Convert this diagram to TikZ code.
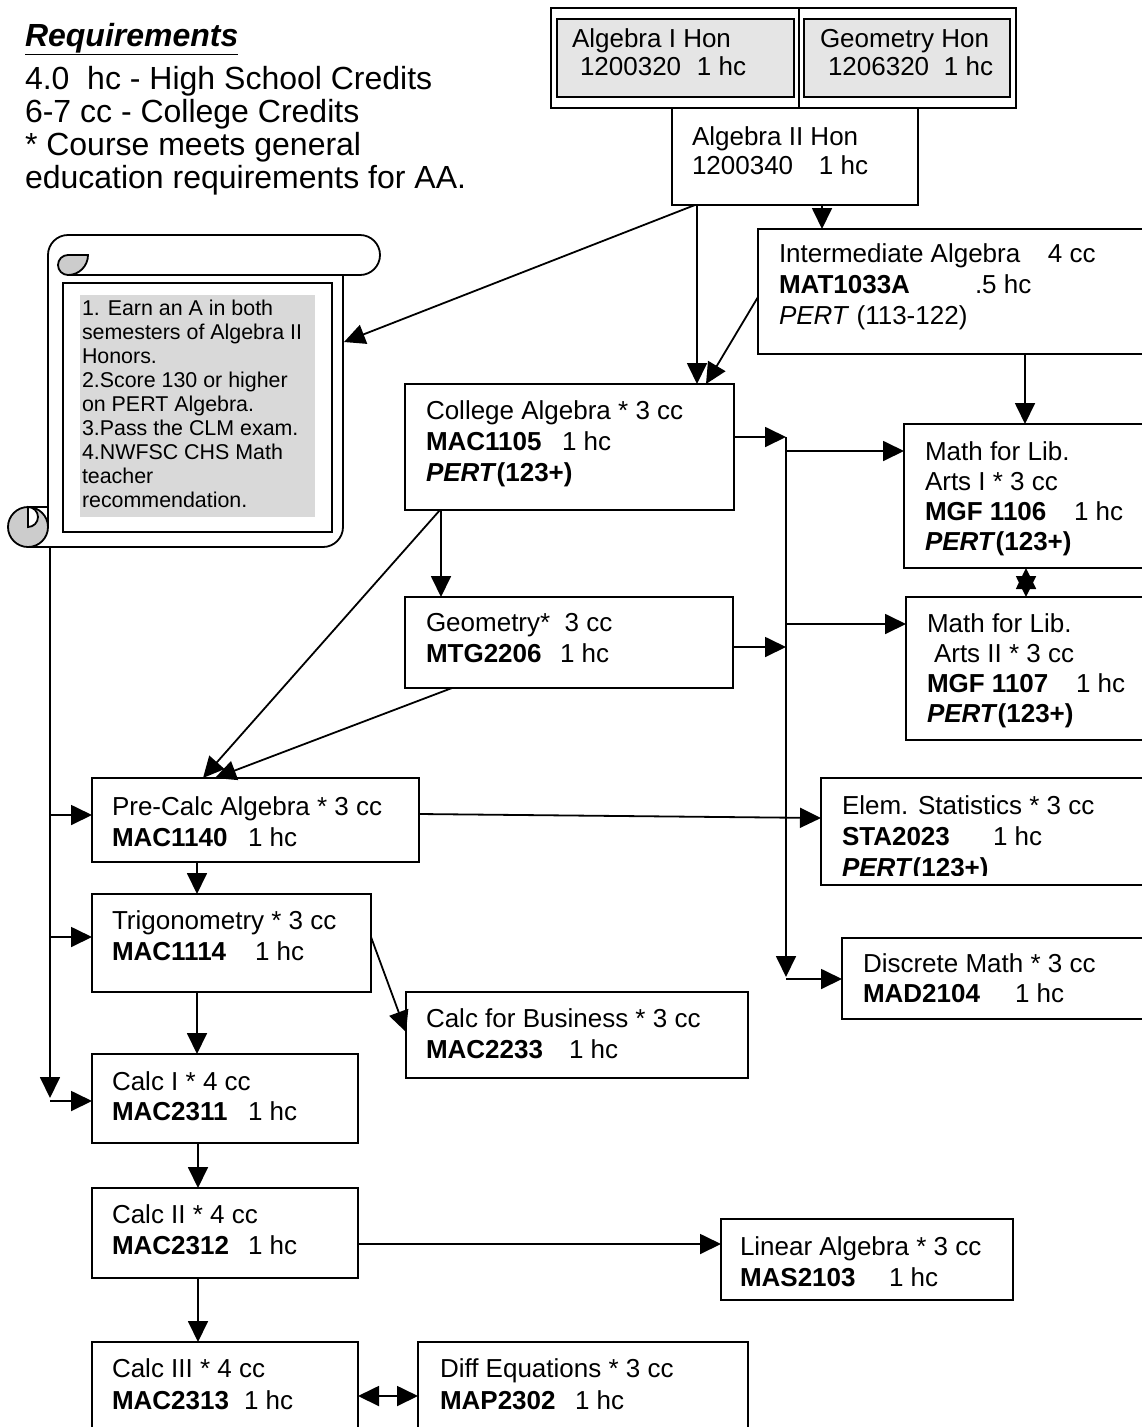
\documentclass[tikz,border=0pt]{standalone}
\usepackage{fontspec}
\setmainfont{Liberation Sans}
\usetikzlibrary{arrows.meta}
\newcommand\mylines[2][31pt]{\fontsize{26pt}{#1}\selectfont\begin{tabular}[t]{@{}l@{}}#2\end{tabular}}
\newcommand\pertbold{\textbf{\textit{PERT}(123+)}}
\begin{document}
\begin{tikzpicture}[x=1pt,y=-1pt,
  box/.style={draw, line width=2pt, anchor=north west, inner sep=0, outer sep=0},
  frame/.style={draw, line width=1.5pt, anchor=north west, inner sep=0, outer sep=0},
  txt/.style={anchor=base west, inner sep=0, outer sep=0},
  arr/.style={line width=1.8pt, -{Triangle[length=21pt,width=20pt]}},
  dbl/.style={line width=1.8pt, {Triangle[length=21pt,width=20pt]}-{Triangle[length=21pt,width=20pt]}}]
\useasboundingbox (0,0) rectangle (1142,1427);
\clip (0,0) rectangle (1142,1427);
\fill[white] (0,0) rectangle (1142,1427);

% ---------- Requirements ----------
\node[txt] (reqh) at (25,46) {\fontsize{32pt}{34pt}\selectfont\underline{\textbf{\textit{Requirements}}}};
\node[txt] (reqt) at (25,89) {\fontsize{32pt}{33pt}\selectfont\begin{tabular}[t]{@{}l@{}}4.0\ \ hc - High School Credits\\6-7 cc - College Credits\\{}* Course meets general\\education requirements for AA.\end{tabular}};

% ---------- scroll ----------
\begin{scope}[line width=1.8pt]
\draw (48,527) -- (48,255) arc[start angle=180, end angle=90, radius=20pt] -- (360,235)
      arc[start angle=90, end angle=-90, radius=20pt] -- (68,275);
\draw (343,275) -- (343,527) arc[start angle=0, end angle=-90, radius=20pt] -- (28,547);
\filldraw[fill=gray!40] (68,255) -- (88,255) arc[start angle=0, end angle=-90, radius=20pt]
      arc[start angle=270, end angle=90, radius=10pt] -- cycle;
\filldraw[fill=gray!40] (28,527) circle[radius=20pt];
\filldraw[fill=white] (28,507) arc[start angle=90, end angle=-90, radius=10pt] -- cycle;
\draw (28,507) -- (48,507);
\end{scope}
\draw[line width=1.5pt] (63,283) rectangle (332,532);
\fill[gray!30] (80,295) rectangle (315,517);
\node[txt] (scrolltext) at (82,315) {\fontsize{21.4pt}{24pt}\selectfont\begin{tabular}[t]{@{}l@{}}1. Earn an A in both\\semesters of Algebra II\\Honors.\\2.Score 130 or higher\\on PERT Algebra.\\3.Pass the CLM exam.\\4.NWFSC CHS Math\\teacher\\recommendation.\end{tabular}};
\coordinate (scrollR) at (344,342);
\coordinate (scrollB) at (50,547);

% ---------- boxes ----------
\node[frame, minimum width=248pt, minimum height=100pt] (hona) at (551,8) {};
\node[frame, minimum width=217pt, minimum height=100pt] (honb) at (799,8) {};
\node[box, line width=2.4pt, fill=gray!20, minimum width=237pt, minimum height=78pt] (alg1) at (557,19) {};
\node[box, line width=2.4pt, fill=gray!20, minimum width=206pt, minimum height=78pt] (geoh) at (804,19) {};
\node[box, minimum width=246pt, minimum height=97pt] (alg2) at (672,108) {};
\node[box, minimum width=402pt, minimum height=125pt] (inter) at (758,229) {};
\node[box, minimum width=329pt, minimum height=126pt] (college) at (405,384) {};
\node[box, minimum width=328pt, minimum height=91pt] (geom) at (405,597) {};
\node[box, minimum width=256pt, minimum height=144pt] (lib1) at (904,424) {};
\node[box, minimum width=254pt, minimum height=143pt] (lib2) at (906,597) {};
\node[box, minimum width=327pt, minimum height=84pt] (precalc) at (92,778) {};
\node[box, minimum width=339pt, minimum height=107pt] (stats) at (821,778) {};
\node[box, minimum width=279pt, minimum height=98pt] (trig) at (92,894) {};
\node[box, minimum width=318pt, minimum height=81pt] (discrete) at (842,938) {};
\node[box, minimum width=342pt, minimum height=86pt] (business) at (406,992) {};
\node[box, minimum width=266pt, minimum height=89pt] (calc1) at (92,1054) {};
\node[box, minimum width=266pt, minimum height=90pt] (calc2) at (92,1188) {};
\node[box, minimum width=292pt, minimum height=81pt] (linear) at (721,1219) {};
\node[box, minimum width=266pt, minimum height=100pt] (calc3) at (92,1342) {};
\node[box, minimum width=330pt, minimum height=100pt] (diffeq) at (418,1342) {};

% ---------- texts ----------
\node[txt] (talg1) at (572,47) {\mylines[28pt]{Algebra I Hon\\\hspace{8pt}\makebox[117pt][l]{1200320}1 hc}};
\node[txt] (tgeoh) at (820,47) {\mylines[28pt]{Geometry Hon\\\hspace{8pt}\makebox[116pt][l]{1206320}1 hc}};
\node[txt] (talg2) at (692,145) {\mylines[29pt]{Algebra II Hon\\\makebox[127pt][l]{1200340}1 hc}};
\node[txt] (tinter) at (779,262) {\mylines{\makebox[269pt][l]{Intermediate Algebra}4 cc\\\makebox[196pt][l]{\textbf{MAT1033A}}.5 hc\\\textit{PERT} (113-122)}};
\node[txt] (tcollege) at (426,419) {\mylines{College Algebra * 3 cc\\\makebox[136pt][l]{\textbf{MAC1105}}1 hc\\\pertbold}};
\node[txt] (tgeom) at (426,631) {\mylines{Geometry*\ \ 3 cc\\\makebox[134pt][l]{\textbf{MTG2206}}1 hc}};
\node[txt] (tlib1) at (925,460) {\mylines[30pt]{Math for Lib.\\Arts I * 3 cc\\\makebox[149pt][l]{\textbf{MGF 1106}}1 hc\\\pertbold}};
\node[txt] (tlib2) at (927,632) {\mylines[30pt]{Math for Lib.\\\hspace{7pt}Arts II * 3 cc\\\makebox[149pt][l]{\textbf{MGF 1107}}1 hc\\\pertbold}};
\begin{scope}
\clip (821,778) rectangle (1142,875);
\node[txt] (tstats) at (842,814) {\mylines[31pt]{Elem. Statistics * 3 cc\\\makebox[151pt][l]{\textbf{STA2023}}1 hc\\\pertbold}};
\end{scope}
\node[txt] (tdiscrete) at (863,972) {\mylines[30pt]{Discrete Math * 3 cc\\\makebox[152pt][l]{\textbf{MAD2104}}1 hc}};
\node[txt] (tprecalc) at (112,815) {\mylines{Pre-Calc Algebra * 3 cc\\\makebox[136pt][l]{\textbf{MAC1140}}1 hc}};
\node[txt] (ttrig) at (112,929) {\mylines[31pt]{Trigonometry * 3 cc\\\makebox[143pt][l]{\textbf{MAC1114}}1 hc}};
\node[txt] (tcalc1) at (112,1090) {\mylines[30pt]{Calc I * 4 cc\\\makebox[136pt][l]{\textbf{MAC2311}}1 hc}};
\node[txt] (tbusiness) at (426,1027) {\mylines{Calc for Business * 3 cc\\\makebox[143pt][l]{\textbf{MAC2233}}1 hc}};
\node[txt] (tcalc2) at (112,1223) {\mylines{Calc II * 4 cc\\\makebox[136pt][l]{\textbf{MAC2312}}1 hc}};
\node[txt] (tlinear) at (740,1255) {\mylines[31pt]{Linear Algebra * 3 cc\\\makebox[149pt][l]{\textbf{MAS2103}}1 hc}};
\node[txt] (tcalc3) at (112,1377) {\mylines[32pt]{Calc III * 4 cc\\\makebox[132pt][l]{\textbf{MAC2313}}1 hc}};
\node[txt] (tdiffeq) at (440,1377) {\mylines[32pt]{Diff Equations * 3 cc\\\makebox[135pt][l]{\textbf{MAP2302}}1 hc}};

% ---------- connectors ----------
\draw[arr] (alg2.south -| 822,0) -- (inter.north -| 822,0);
\draw[arr] (alg2.south -| 697,0) -- (college.north -| 697,0);
\draw[arr] (alg2.south -| 695,0) -- (scrollR);
\draw[arr] (inter.west |- 0,297) -- (college.north -| 706,0);
\draw[arr] (inter.south -| 1025,0) -- (lib1.north -| 1025,0);
\coordinate (busTop) at (786,437);
\coordinate (busBot) at (786,977);
\draw[arr] (college.east |- busTop) -- (busTop);
\draw[arr] (geom.east |- 0,647) -- (786,647);
\draw[arr] (busTop) -- (busBot);
\draw[arr] (786,451) -- (lib1.west |- 0,451);
\draw[arr] (786,624) -- (lib2.west |- 0,624);
\draw[arr] (786,979) -- (discrete.west |- 0,979);
\draw[dbl] (lib1.south -| 1026,0) -- (lib2.north -| 1026,0);
\draw[arr] (college.south -| 440,0) -- (precalc.north -| 203,0);
\draw[arr] (college.south -| 441,0) -- (geom.north -| 441,0);
\draw[arr] (geom.south -| 452,0) -- (precalc.north -| 215,0);
\draw[arr] (precalc.east |- 0,814) -- (stats.west |- 0,818);
\draw[arr] (precalc.south -| 197,0) -- (trig.north -| 197,0);
\draw[arr] (trig.south -| 197,0) -- (calc1.north -| 197,0);
\draw[arr] (trig.east |- 0,937) -- (business.west |- 0,1032);
\draw[arr] (calc1.south -| 198,0) -- (calc2.north -| 198,0);
\draw[arr] (calc2.east |- 0,1244) -- (linear.west |- 0,1244);
\draw[arr] (calc2.south -| 198,0) -- (calc3.north -| 198,0);
\draw[dbl] (calc3.east |- 0,1396) -- (diffeq.west |- 0,1396);
\draw[arr] (scrollB) -- (50,1098);
\draw[arr] (50,815) -- (precalc.west |- 0,815);
\draw[arr] (50,937) -- (trig.west |- 0,937);
\draw[arr] (50,1101) -- (calc1.west |- 0,1101);
\end{tikzpicture}
\end{document}
